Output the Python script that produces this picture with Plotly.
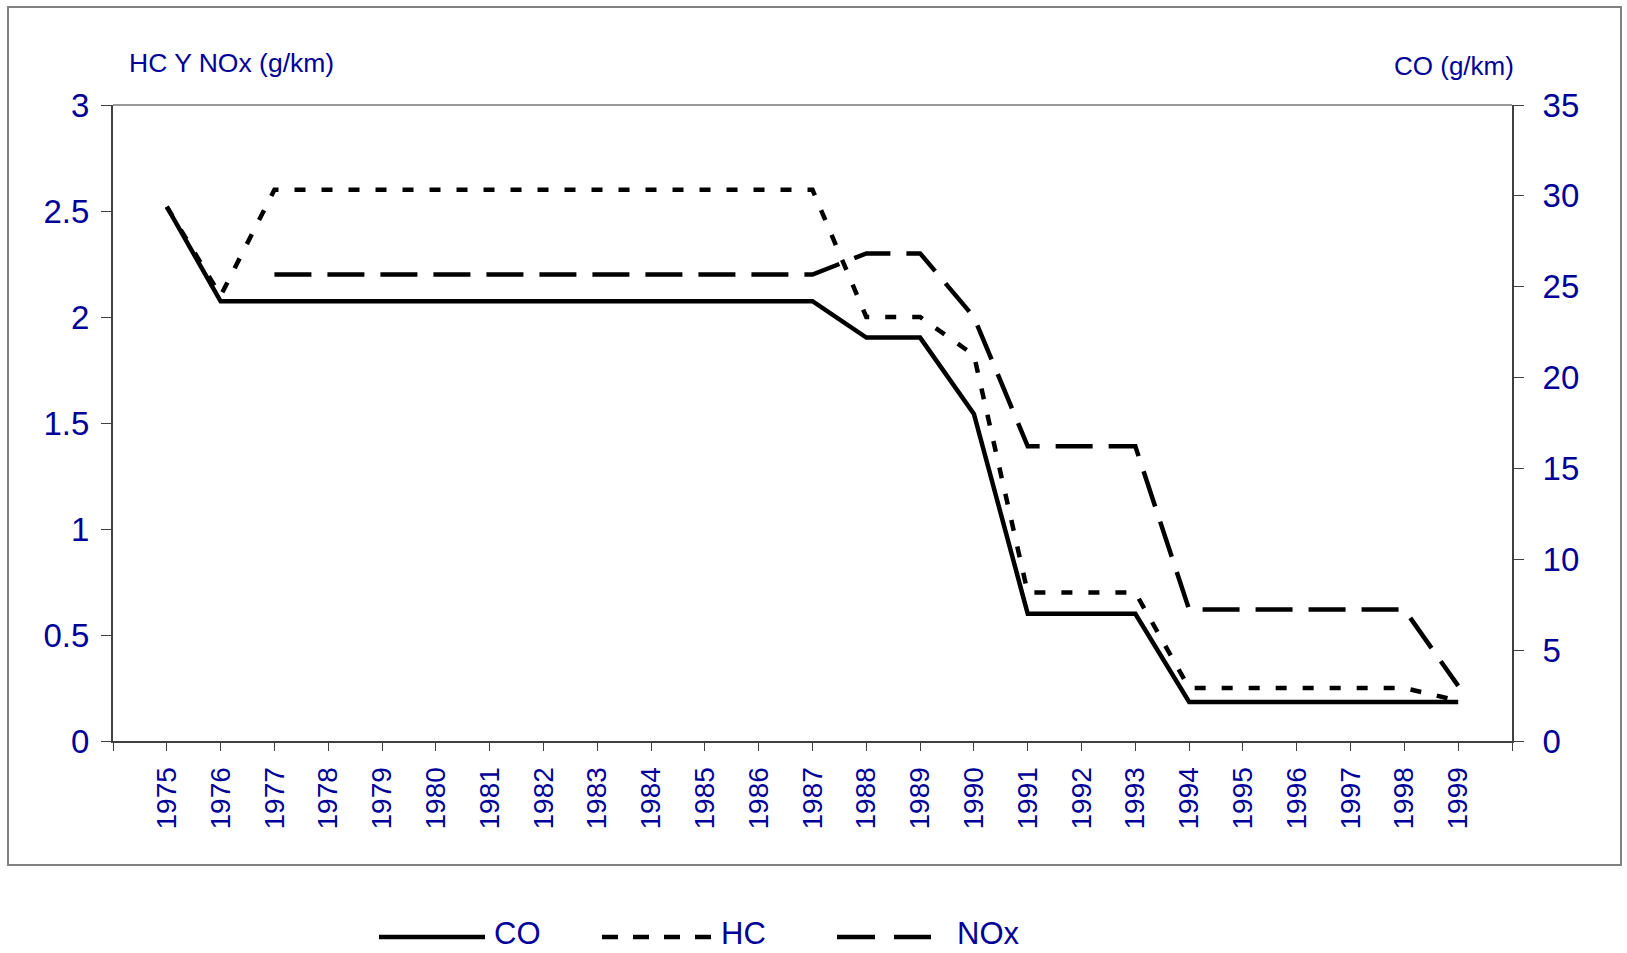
import plotly.graph_objects as go

years = list(range(1975, 2000))
co_values = [29.4, 24.2, 24.2, 24.2, 24.2, 24.2, 24.2, 24.2, 24.2, 24.2, 24.2, 24.2, 24.2,
             22.2, 22.2, 18.0, 7.0, 7.0, 7.0, 2.15, 2.15, 2.15, 2.15, 2.15, 2.15]
hc_values = [2.52, 2.10, 2.60, 2.60, 2.60, 2.60, 2.60, 2.60, 2.60, 2.60, 2.60, 2.60, 2.60,
             2.00, 2.00, 1.82, 0.70, 0.70, 0.70, 0.25, 0.25, 0.25, 0.25, 0.25, 0.19]
nox_values = [None, None, 2.20, 2.20, 2.20, 2.20, 2.20, 2.20, 2.20, 2.20, 2.20, 2.20, 2.20,
              2.30, 2.30, 2.00, 1.39, 1.39, 1.39, 0.62, 0.62, 0.62, 0.62, 0.62, 0.26]
left_ticks = [0, 0.5, 1, 1.5, 2, 2.5, 3]
right_ticks = [0, 5, 10, 15, 20, 25, 30, 35]

W, H = 1627, 953
L, R, T, B = 113, 115, 105, 212
PW, PH = W - L - R, H - T - B

def px(x):
    return (x - L) / PW

def py(y):
    return (H - B - y) / PH

BLUE = "#000099"
FONT = "Liberation Sans, Arial, sans-serif"
AXC = "#404040"

fig = go.Figure()
fig.add_trace(go.Scatter(x=years, y=co_values, name="CO", mode="lines", yaxis="y2",
                         line=dict(color="black", width=4.5)))
fig.add_trace(go.Scatter(x=years, y=hc_values, name="HC", mode="lines",
                         line=dict(color="black", width=4.5, dash="11px,16px")))
fig.add_trace(go.Scatter(x=years, y=nox_values, name="NOx", mode="lines",
                         line=dict(color="black", width=4.5, dash="37px,16px")))

tickvals_x = list(range(1974, 2001))
ticktext_x = [""] + [str(y) for y in years] + [""]

fig.update_layout(
    width=W, height=H,
    margin=dict(l=L, r=R, t=T, b=B),
    paper_bgcolor="white", plot_bgcolor="white",
    showlegend=False,
    xaxis=dict(range=[1974, 2000], tickvals=tickvals_x, ticktext=ticktext_x,
               tickangle=-90, ticks="outside", ticklen=8, tickcolor=AXC,
               showline=True, linecolor=AXC, linewidth=2, showgrid=False,
               zeroline=False, tickfont=dict(family=FONT, size=28, color=BLUE),
               ticklabelstandoff=5),
    yaxis=dict(range=[0, 3], tickvals=left_ticks, ticks="outside", ticklen=10,
               tickcolor=AXC, showline=True, linecolor=AXC, linewidth=2,
               showgrid=False, zeroline=False,
               tickfont=dict(family=FONT, size=33, color=BLUE), ticklabelstandoff=5),
    yaxis2=dict(range=[0, 35], tickvals=right_ticks, overlaying="y", side="right",
                ticks="outside", ticklen=10, tickcolor=AXC, showline=True,
                linecolor=AXC, linewidth=2, showgrid=False, zeroline=False,
                tickfont=dict(family=FONT, size=33, color=BLUE), ticklabelstandoff=12),
    yaxis3=dict(range=[0, 35], tickvals=right_ticks, overlaying="y", side="right",
                ticks="inside", ticklen=10, tickcolor=AXC, showline=False,
                showticklabels=False, showgrid=False, zeroline=False),
)

# plot area top border and outer frame
fig.add_shape(type="line", xref="paper", yref="paper", x0=0, x1=1, y0=1, y1=1,
              line=dict(color="#999999", width=2))
fig.add_shape(type="rect", xref="paper", yref="paper", x0=px(8), x1=px(1621),
              y0=py(865), y1=py(7), line=dict(color="#808080", width=2))

# axis titles
fig.add_annotation(text="HC Y NOx (g/km)", xref="paper", yref="paper", x=px(127), y=py(63),
                   xanchor="left", yanchor="middle", showarrow=False,
                   font=dict(family=FONT, size=26.5, color=BLUE))
fig.add_annotation(text="CO (g/km)", xref="paper", yref="paper", x=px(1516), y=py(66),
                   xanchor="right", yanchor="middle", showarrow=False,
                   font=dict(family=FONT, size=26, color=BLUE))

# legend
legend_items = [("CO", "solid", 379, 485, 492),
                ("HC", "16px,15px", 602, 713, 719),
                ("NOx", "38px,19px", 837, 931, 955)]
ly = py(937)
for name, dash, x0, x1, tx in legend_items:
    fig.add_shape(type="line", xref="paper", yref="paper", x0=px(x0), x1=px(x1),
                  y0=ly, y1=ly, line=dict(color="black", width=4.5, dash=dash))
    fig.add_annotation(text=name, xref="paper", yref="paper", x=px(tx), y=py(934),
                       xanchor="left", yanchor="middle", showarrow=False,
                       font=dict(family=FONT, size=31, color=BLUE))

fig.write_html("out.html")
